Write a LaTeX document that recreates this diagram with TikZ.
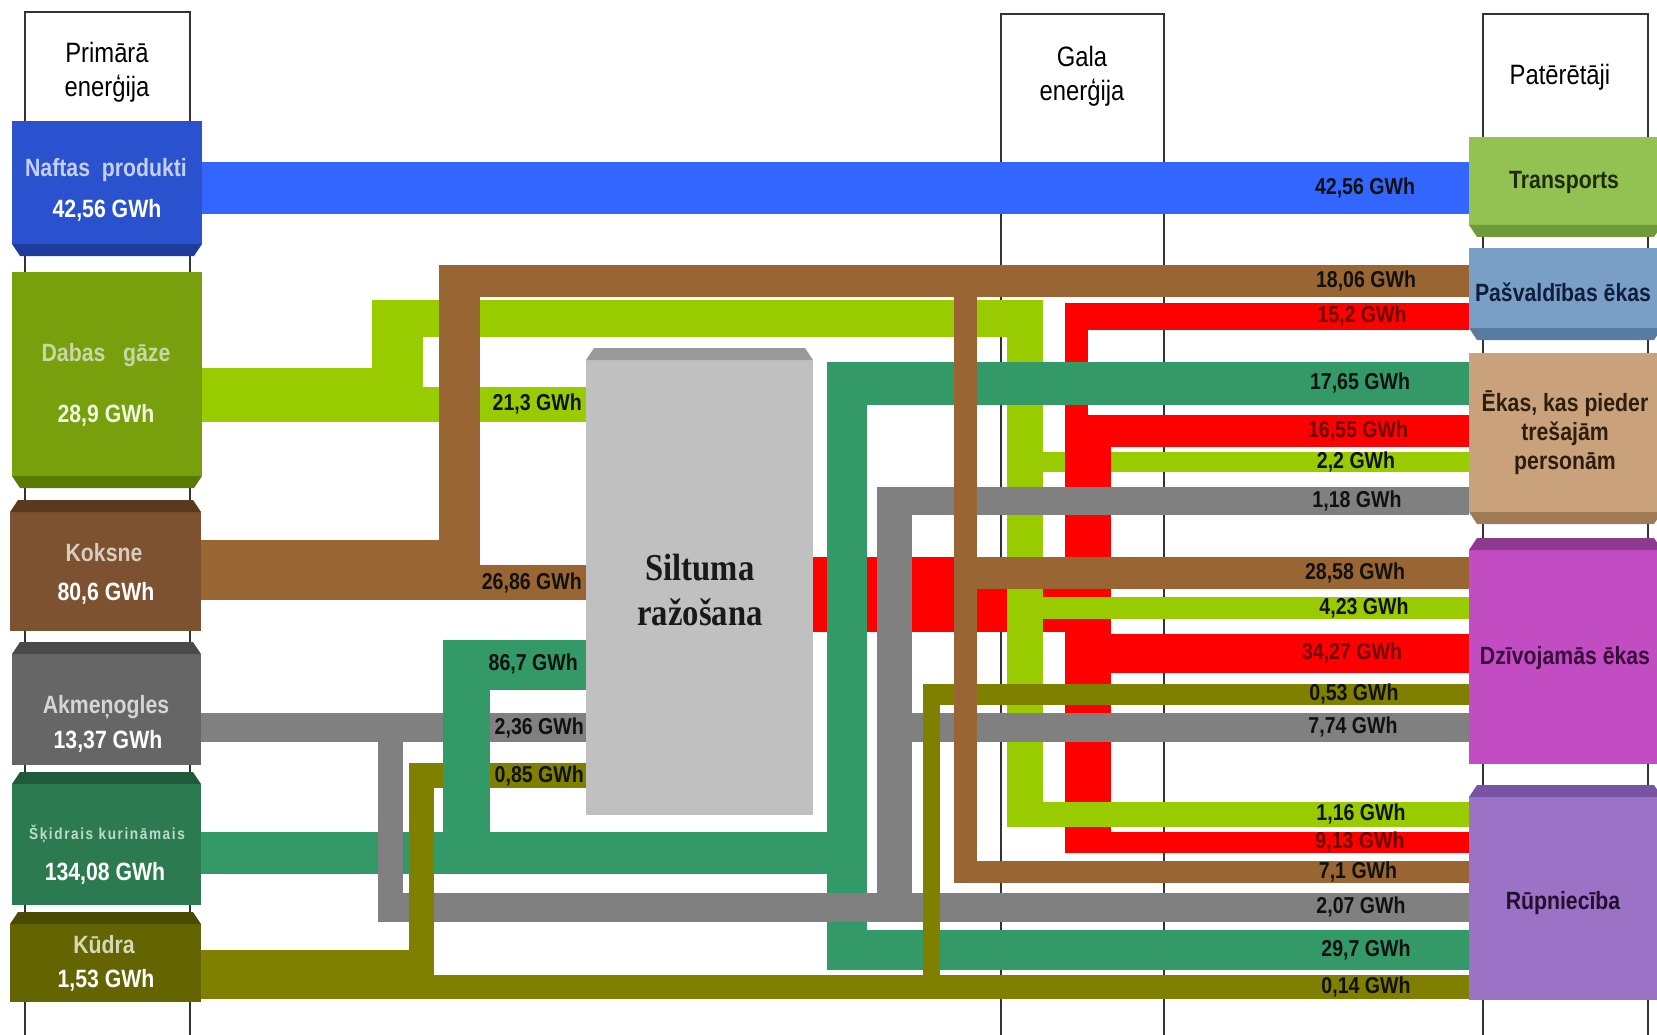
\documentclass[tikz,border=0pt]{standalone}
\usepackage{fontspec}
\setmainfont{Liberation Sans}[FakeStretch=0.85]
\newfontfamily\hdrfont{Liberation Sans}[FakeStretch=0.85]
\newfontfamily\skifont{Liberation Sans}[FakeStretch=0.85, LetterSpace=10]
\newfontfamily\silfont{Liberation Serif}[FakeStretch=0.86]

\definecolor{cblue}{HTML}{3366FF}
\definecolor{cbrown}{HTML}{996633}
\definecolor{clgreen}{HTML}{99CC00}
\definecolor{cdgreen}{HTML}{339966}
\definecolor{cred}{HTML}{FF0000}
\definecolor{cgray}{HTML}{808080}
\definecolor{colive}{HTML}{808000}

\definecolor{naftas}{HTML}{2B52CE}\definecolor{naftasd}{HTML}{1E3C9C}
\definecolor{dabas}{HTML}{78A00C}\definecolor{dabasd}{HTML}{5A7A06}
\definecolor{koksne}{HTML}{7C5230}\definecolor{koksned}{HTML}{5A3A1E}
\definecolor{akmen}{HTML}{666666}\definecolor{akmend}{HTML}{4A4A4A}
\definecolor{skidr}{HTML}{2C7A50}\definecolor{skidrd}{HTML}{1F5B3B}
\definecolor{kudra}{HTML}{646400}\definecolor{kudrad}{HTML}{4A4A00}
\definecolor{transp}{HTML}{93C152}\definecolor{transpd}{HTML}{6F9A3A}
\definecolor{pasv}{HTML}{7A9FC7}\definecolor{pasvd}{HTML}{5A7BA0}
\definecolor{ekas}{HTML}{C9A27B}\definecolor{ekasd}{HTML}{A07A55}
\definecolor{dziv}{HTML}{C24CC2}\definecolor{dzivd}{HTML}{8E3A8E}
\definecolor{rup}{HTML}{9C72C6}\definecolor{rupd}{HTML}{7A54A4}
\definecolor{silt}{HTML}{C0C0C0}\definecolor{siltd}{HTML}{9A9A9A}
\definecolor{framec}{HTML}{333333}
\definecolor{labc}{HTML}{111111}
\definecolor{redlabc}{HTML}{6E0000}

\definecolor{tnafc}{HTML}{C5CFEE}
\definecolor{tdabc}{HTML}{C8D7A6}
\definecolor{vdabc}{HTML}{F0F7E0}
\definecolor{tkokc}{HTML}{D9CBBE}
\definecolor{takmc}{HTML}{D5D5D5}
\definecolor{tskic}{HTML}{BEDCCB}
\definecolor{tkudc}{HTML}{D8D8B8}
\definecolor{ttrac}{HTML}{1E2B0F}
\definecolor{tpasc}{HTML}{0F1E3A}
\definecolor{tekac}{HTML}{2E1E0E}
\definecolor{tdzic}{HTML}{3A0E3A}
\definecolor{trupc}{HTML}{21102E}

% box with darker bevel at bottom / top
\newcommand\bxbot[6]{%
  \fill[#5] (#1,#2) rectangle (#3,{#4-12});
  \fill[#6] (#1,{#4-12}) -- (#3,{#4-12}) -- ({#3-8},#4) -- ({#1+8},#4) -- cycle;}
\newcommand\bxtop[6]{%
  \fill[#5] (#1,{#2+12}) rectangle (#3,#4);
  \fill[#6] ({#1+8},#2) -- ({#3-8},#2) -- (#3,{#2+12}) -- (#1,{#2+12}) -- cycle;}

\tikzset{
  myframe/.style={draw=framec, line width=1.6pt},
  bandlab/.style={inner sep=0pt, font=\fontsize{23}{26}\selectfont\bfseries, text=labc},
  redlab/.style={bandlab, text=redlabc},
  lefttitle/.style={inner sep=0pt, font=\fontsize{25}{28}\selectfont\bfseries},
  righttitle/.style={inner sep=0pt, align=center, font=\fontsize{25}{29}\selectfont\bfseries},
  hdr/.style={inner sep=0pt, align=center, font=\hdrfont\fontsize{28}{34}\selectfont, text=black},
}

\begin{document}
\begin{tikzpicture}[x=1pt,y=-1pt]
\useasboundingbox (0,0) rectangle (1657,1035);
\fill[white] (0,0) rectangle (1657,1035);

% column frames
\draw[myframe] (25,1035) -- (25,12) -- (190,12) -- (190,1035);
\draw[myframe] (1001,1035) -- (1001,14) -- (1164,14) -- (1164,1035);
\draw[myframe] (1483,1035) -- (1483,14) -- (1648,14) -- (1648,1035);

% ---- bands ----
% light green 2,2 (below red trunk)
\fill[clgreen] (1043,452) rectangle (1469,472);
% red (heat)
\fill[cred] (813,557) rectangle (1111,632);
\fill[cred] (1065,303) rectangle (1088,420);
\fill[cred] (1065,415) rectangle (1111,853);
\fill[cred] (1065,303) rectangle (1469,330);
\fill[cred] (1065,415) rectangle (1469,447);
\fill[cred] (1065,634) rectangle (1469,673);
\fill[cred] (1065,832) rectangle (1469,853);
% light green rest
\fill[clgreen] (202,368) rectangle (423,422);
\fill[clgreen] (372,300) rectangle (423,422);
\fill[clgreen] (423,387) rectangle (586,422);
\fill[clgreen] (372,300) rectangle (1043,337);
\fill[clgreen] (1007,300) rectangle (1043,827);
\fill[clgreen] (1043,597) rectangle (1469,619);
\fill[clgreen] (1007,802) rectangle (1469,827);
% blue
\fill[cblue] (202,162) rectangle (1469,214);
% gray band from Akmenogles to Siltuma
\fill[cgray] (201,713) rectangle (586,742);
% olive 0,85
\fill[colive] (409,763) rectangle (586,788);
% dark green
\fill[cdgreen] (201,832) rectangle (867,874);
\fill[cdgreen] (443,640) rectangle (490,874);
\fill[cdgreen] (443,640) rectangle (586,690);
\fill[cdgreen] (827,362) rectangle (867,970);
\fill[cdgreen] (827,362) rectangle (1469,405);
\fill[cdgreen] (827,930) rectangle (1469,970);
% gray rest
\fill[cgray] (378,713) rectangle (403,922);
\fill[cgray] (378,893) rectangle (1469,922);
\fill[cgray] (877,487) rectangle (912,922);
\fill[cgray] (877,487) rectangle (1469,515);
\fill[cgray] (877,713) rectangle (1469,742);
% olive rest
\fill[colive] (201,950) rectangle (434,999);
\fill[colive] (409,763) rectangle (434,999);
\fill[colive] (434,975) rectangle (1469,999);
\fill[colive] (923,684) rectangle (940,999);
\fill[colive] (923,684) rectangle (1469,705);
% brown
\fill[cbrown] (201,540) rectangle (480,600);
\fill[cbrown] (480,565) rectangle (586,600);
\fill[cbrown] (439,265) rectangle (480,600);
\fill[cbrown] (439,265) rectangle (1469,297);
\fill[cbrown] (954,297) rectangle (977,883);
\fill[cbrown] (954,557) rectangle (1469,589);
\fill[cbrown] (954,861) rectangle (1469,883);

% ---- boxes ----
\bxbot{12}{121}{202}{256}{naftas}{naftasd}
\bxbot{12}{272}{202}{488}{dabas}{dabasd}
\bxtop{10}{500}{201}{631}{koksne}{koksned}
\bxtop{12}{642}{201}{765}{akmen}{akmend}
\bxtop{12}{772}{201}{905}{skidr}{skidrd}
\bxtop{10}{912}{201}{1002}{kudra}{kudrad}

\bxbot{1469}{137}{1662}{237}{transp}{transpd}
\bxbot{1469}{248}{1662}{340}{pasv}{pasvd}
\bxbot{1469}{353}{1662}{524}{ekas}{ekasd}
\bxtop{1469}{538}{1662}{764}{dziv}{dzivd}
\bxtop{1469}{785}{1662}{1000}{rup}{rupd}

\bxtop{586}{348}{813}{815}{silt}{siltd}

% ---- headers ----
\node[hdr] (hprim) at (107,72) {Primārā\\enerģija};
\node[hdr] (hgala) at (1082,76) {Gala\\enerģija};
\node[hdr] (hpat) at (1560,77) {Patērētāji};

% ---- left box texts ----
\node[lefttitle, text=tnafc] (tnaf) at (106,170) {Naftas\ \ produkti};
\node[lefttitle, text=white] (vnaf) at (107,210) {42,56 GWh};
\node[lefttitle, text=tdabc] (tdab) at (106,355) {Dabas\ \ \ gāze};
\node[lefttitle, text=vdabc] (vdab) at (106,415) {28,9 GWh};
\node[lefttitle, text=tkokc] (tkok) at (104,553) {Koksne};
\node[lefttitle, text=white] (vkok) at (106,593) {80,6 GWh};
\node[lefttitle, text=takmc] (takm) at (106,707) {Akmeņogles};
\node[lefttitle, text=white] (vakm) at (108,741) {13,37 GWh};
\node[inner sep=0pt, font=\skifont\fontsize{16}{18}\selectfont\bfseries, text=tskic] (tski) at (107,834) {Šķidrais kurināmais};
\node[lefttitle, text=white] (vski) at (105,873) {134,08 GWh};
\node[lefttitle, text=tkudc] (tkud) at (104,945) {Kūdra};
\node[lefttitle, text=white] (vkud) at (106,980) {1,53 GWh};

% ---- right box texts ----
\node[righttitle, text=ttrac] (ttra) at (1564,182) {Transports};
\node[righttitle, text=tpasc] (tpas) at (1563,292) {Pašvaldības ēkas};
\node[righttitle, text=tekac] (teka) at (1565,433) {Ēkas, kas pieder\\trešajām\\personām};
\node[righttitle, text=tdzic] (tdzi) at (1565,658) {Dzīvojamās ēkas};
\node[righttitle, text=trupc] (trup) at (1563,903) {Rūpniecība};

% ---- Siltuma ražošana ----
\node[inner sep=0pt, align=center, font=\silfont\fontsize{38}{45}\selectfont\bfseries, text=black!90] (tsil) at (700,590) {Siltuma\\ražošana};

% ---- flow labels, left ----
\node[bandlab, anchor=east] (l213) at (582,404) {21,3 GWh};
\node[bandlab, anchor=east] (l2686) at (582,583) {26,86 GWh};
\node[bandlab, anchor=east] (l867) at (578,664) {86,7 GWh};
\node[bandlab, anchor=east] (l236) at (584,728) {2,36 GWh};
\node[bandlab, anchor=east] (l085) at (584,776) {0,85 GWh};

% ---- flow labels, right ----
\node[bandlab] (r4256) at (1365,188) {42,56 GWh};
\node[bandlab] (r1806) at (1366,281) {18,06 GWh};
\node[redlab]  (r152)  at (1362,316) {15,2 GWh};
\node[bandlab] (r1765) at (1360,383) {17,65 GWh};
\node[redlab]  (r1655) at (1358,431) {16,55 GWh};
\node[bandlab] (r22)   at (1356,462) {2,2 GWh};
\node[bandlab] (r118)  at (1357,501) {1,18 GWh};
\node[bandlab] (r2858) at (1355,573) {28,58 GWh};
\node[bandlab] (r423)  at (1364,608) {4,23 GWh};
\node[redlab]  (r3427) at (1352,653) {34,27 GWh};
\node[bandlab] (r053)  at (1354,694) {0,53 GWh};
\node[bandlab] (r774)  at (1353,727) {7,74 GWh};
\node[bandlab] (r116)  at (1361,814) {1,16 GWh};
\node[redlab]  (r913)  at (1360,842) {9,13 GWh};
\node[bandlab] (r71)   at (1358,872) {7,1 GWh};
\node[bandlab] (r207)  at (1361,907) {2,07 GWh};
\node[bandlab] (r297)  at (1366,950) {29,7 GWh};
\node[bandlab] (r014)  at (1366,987) {0,14 GWh};
\end{tikzpicture}
\end{document}
